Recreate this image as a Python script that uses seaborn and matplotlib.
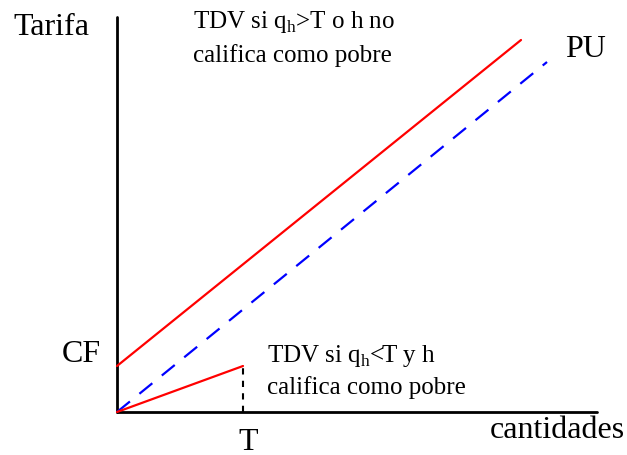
import seaborn as sns
import matplotlib.pyplot as plt

# data (pixel-like units, origin at the axes corner)
eje_x = [0, 480]
eje_y = [0, 395]
CF = 46
T = 126
cantidad_tdv = [0, 404]
tarifa_tdv = [CF, 372]
cantidad_pu = [0, 430]
tarifa_pu = [0, 350]
cantidad_pobre = [0, T]
tarifa_pobre = [0, CF]

sns.set_style("white")
plt.rcParams['font.family'] = ['Liberation Serif', 'DejaVu Serif']
plt.rcParams['mathtext.fontset'] = 'custom'
plt.rcParams['mathtext.rm'] = 'Liberation Serif'
plt.rcParams['text.color'] = 'black'

fig = plt.figure(figsize=(6.27, 4.56), dpi=100)
ax = fig.add_axes([0, 0, 1, 1])
ax.set_xlim(-117, 510)
ax.set_ylim(-43, 413)
ax.axis('off')

# axes of the diagram
sns.lineplot(x=eje_x, y=[0, 0], color='black', linewidth=2, ax=ax)
ax.plot([0, 0], eje_y, color='black', linewidth=2)

sns.lineplot(x=cantidad_tdv, y=tarifa_tdv, color='red', linewidth=1.6, ax=ax)
sns.lineplot(x=cantidad_pu, y=tarifa_pu, color='blue', linewidth=1.6,
             linestyle=(0, (7.5, 5.5)), ax=ax)
sns.lineplot(x=cantidad_pobre, y=tarifa_pobre, color='red', linewidth=1.6, ax=ax)
ax.plot([T, T], [0, CF], color='black', linewidth=1.5, linestyle=(0, (3, 3)))

big = 23
small = 18
ax.text(-104, 378, 'Tarifa', fontsize=big, va='baseline', color='black')
ax.text(-55, 51, 'CF', fontsize=big, va='baseline', color='black')
ax.text(131, -37, 'T', fontsize=big, va='baseline', ha='center', color='black')
ax.text(373, -25, 'cantidades', fontsize=big, va='baseline', color='black')
ax.text(448, 356, 'PU', fontsize=big, va='baseline', color='black')

ax.text(76, 385, r'TDV si q$_\mathrm{h}$>T o h no', fontsize=small, va='baseline', color='black')
ax.text(76, 351, 'califica como pobre', fontsize=small, va='baseline', color='black')
ax.text(150, 51, r'TDV si q$_\mathrm{h}$<T y h', fontsize=small, va='baseline', color='black')
ax.text(150, 19, 'califica como pobre', fontsize=small, va='baseline', color='black')

fig.savefig('out.png', dpi=100)
